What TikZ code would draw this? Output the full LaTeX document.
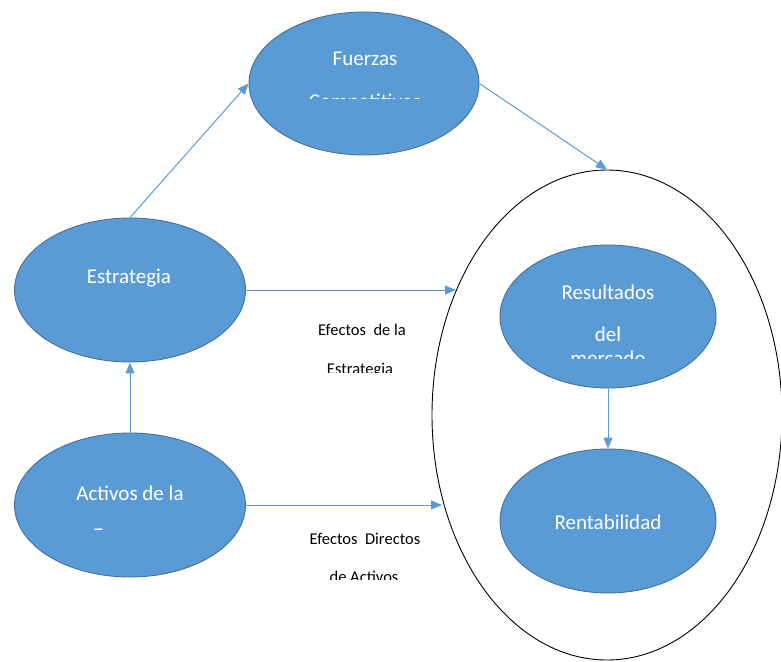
\documentclass[tikz,border=0pt]{standalone}
\usepackage{fontspec}
\setmainfont{Carlito}
\usetikzlibrary{shapes.geometric,arrows.meta}
\definecolor{ofill}{HTML}{5B9BD5}
\definecolor{oline}{HTML}{41719C}
\begin{document}
\begin{tikzpicture}[x=1pt,y=-1pt,
  blob/.style={ellipse, fill=ofill, draw=oline, line width=0.9pt, inner sep=0pt},
  conn/.style={draw=ofill, line width=1pt, -{Triangle[length=11pt,width=9pt]}},
  wtext/.style={text=white, font=\fontsize{21}{21}\selectfont, inner sep=0pt, anchor=base},
  ltext/.style={text=black, font=\fontsize{16.5}{16.5}\selectfont, inner sep=0pt, anchor=base}]
\useasboundingbox (0,0) rectangle (781,661);
% ellipses
\node[blob, minimum width=230pt, minimum height=143pt] (fz) at (364,83.5) {};
\node[blob, minimum width=231pt, minimum height=144pt] (es) at (130,290) {};
\node[blob, minimum width=231pt, minimum height=144pt] (ac) at (130,505) {};
\node[ellipse, draw=black, line width=0.9pt, minimum width=350pt, minimum height=490pt, inner sep=0pt] (big) at (607,415) {};
\node[blob, minimum width=216pt, minimum height=143pt] (re) at (608,316.5) {};
\node[blob, minimum width=216pt, minimum height=144pt] (rn) at (608,521) {};
\coordinate (pe) at (456,290);
\coordinate (pa) at (442,505);
% texts in ellipses
\node[wtext] (t1) at (365,66) {Fuerzas};
\begin{scope}
  \clip (250,0) rectangle (480,98);
  \node[wtext] (t2) at (365,108.5) {Competitivos};
\end{scope}
\node[wtext] (t3) at (129,283) {Estrategia};
\node[wtext] (t4) at (130,500) {Activos de la};
\begin{scope}
  \clip (20,450) rectangle (240,529);
  \node[wtext] (t5) at (130,542.5) {Empresa};
\end{scope}
\node[wtext] (t6) at (608,299) {Resultados};
\node[wtext] (t7) at (608,341) {del};
\begin{scope}
  \clip (500,300) rectangle (716,358);
  \node[wtext] (t8) at (608,365) {mercado};
\end{scope}
\node[wtext] (t9) at (608,529) {Rentabilidad};
% labels
\node[ltext] (l1) at (362,335) {Efectos\ \ de la};
\begin{scope}
  \clip (300,340) rectangle (430,372);
  \node[ltext] (l2) at (360,374) {Estrategia};
\end{scope}
\node[ltext] (l3) at (365,544) {Efectos\ \ Directos};
\begin{scope}
  \clip (300,550) rectangle (430,579);
  \node[ltext] (l4) at (364,582) {de Activos};
\end{scope}
% connectors
\draw[conn] (es.north) -- (fz.west);
\draw[conn] (fz.east) -- (big.north);
\draw[conn] (es.east) -- (pe);
\draw[conn] (ac.north) -- (es.south);
\draw[conn] (ac.east) -- (pa);
\draw[conn] (re.south) -- (rn.north);
\end{tikzpicture}
\end{document}
